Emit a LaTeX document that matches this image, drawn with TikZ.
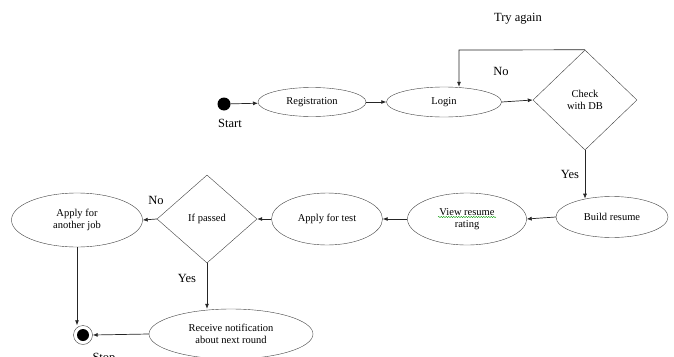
\documentclass[tikz,border=0pt]{standalone}
\usepackage{fontspec}
\setmainfont{Liberation Serif}
\usetikzlibrary{arrows.meta,positioning,shapes,decorations.pathmorphing}

\begin{document}
\begin{tikzpicture}[x=1pt, y=-1pt,
    state/.style={draw=black!75, ellipse, inner sep=0pt, align=center, font=\fontsize{10.5}{12.5}\selectfont},
    decision/.style={draw=black!75, diamond, inner sep=0pt, align=center, font=\fontsize{10.5}{12.5}\selectfont},
    arrow/.style={-{Latex[length=5pt,width=4pt]}, draw=black!85, line width=0.7pt},
    tag/.style={font=\fontsize{12.5}{14}\selectfont},
    startdot/.style={circle, fill=black, minimum size=13pt, inner sep=0pt},
    stopdot/.style={circle, draw=black!75, fill=white, minimum size=19pt, inner sep=0pt}
  ]
  \useasboundingbox (0,0) rectangle (674,356);
  \clip (0,0) rectangle (674,356);

  % Top row
  \node[startdot] (start) at (224,104) {};
  \node[tag] (startlbl) at (230,123) {Start};
  \node[state, minimum width=108pt, minimum height=29pt] (reg) at (312,102) {Registration};
  \node[state, minimum width=115pt, minimum height=30pt] (login) at (444,102) {Login};
  \node[decision, minimum width=104pt, minimum height=100pt] (chk) at (585,100) {Check\\with DB};
  \coordinate (loop) at (459,50);

  % Middle row
  \node[state, minimum width=112pt, minimum height=41pt] (build) at (612,217) {Build resume};
  \node[state, minimum width=119pt, minimum height=52pt] (view) at (467,219) {View resume\\rating};
  \node[state, minimum width=111pt, minimum height=52pt] (test) at (327,219) {Apply for test};
  \node[decision, minimum width=100pt, minimum height=88pt] (pass) at (207,219) {If passed};
  \node[state, minimum width=131pt, minimum height=54pt] (other) at (77,220) {Apply for\\another job};

  % Bottom row
  \node[state, minimum width=164pt, minimum height=50pt] (notify) at (231,334) {Receive notification\\about next round};
  \node[stopdot] (stop) at (83,335) {};
  \fill (stop.center) circle (6pt);
  \node[tag] (stoplbl) at (104,359) {Stop};

  % Labels
  \node[tag] (tryagain) at (518,19) {Try again};
  \node[tag] (nochk) at (501,71) {No};
  \node[tag] (yeschk) at (570,174) {Yes};
  \node[tag] (nopass) at (156,200) {No};
  \node[tag] (yespass) at (187,278) {Yes};

  % spell-check underline
  \draw[green!60!black, line width=0.4pt, decorate, decoration={snake, amplitude=0.6pt, segment length=2.5pt}]
    ([xshift=-29pt, yshift=2pt]view.center) -- ++(58,0);

  % Arrows
  \draw[arrow] (start) -- (reg);
  \draw[arrow] (reg) -- (login);
  \draw[arrow] (login.east) -- (chk.west);
  \draw[arrow] (chk.north) -- (loop) -- (loop |- login.north);
  \draw[arrow] (chk.south) -- (chk.south |- build.145);
  \draw[arrow] (build.west) -- (view.east);
  \draw[arrow] (view.west) -- (test.east);
  \draw[arrow] (test.west) -- (pass.east);
  \draw[arrow] (pass.west) -- (other.east);
  \draw[arrow] (pass.south) -- (pass.south |- notify.north);
  \draw[arrow] (other.south) -- (other.south |- stop.north);
  \draw[arrow] (notify.west) -- (stop.east);

\end{tikzpicture}
\end{document}
